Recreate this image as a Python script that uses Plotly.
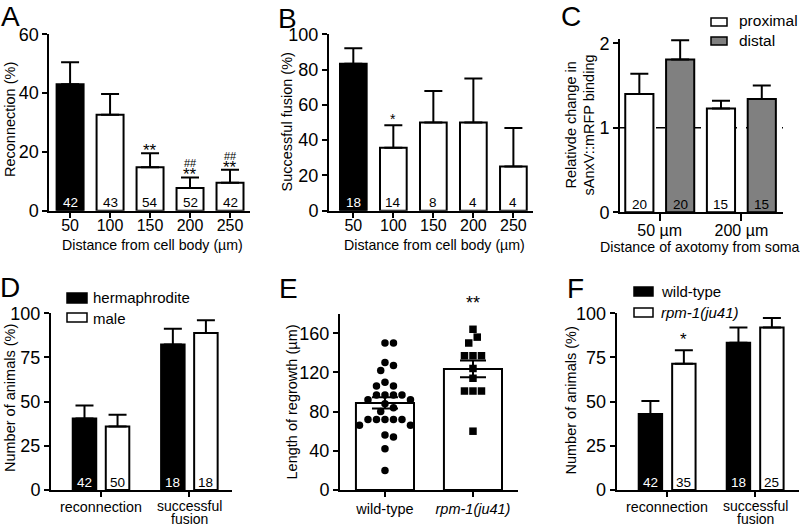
import numpy as np
import plotly.graph_objects as go

W, H = 800, 527
FONT = "Liberation Sans, Arial, Helvetica, sans-serif"

# ---------------- data ----------------
# Panel A
dist_labels = ["50", "100", "150", "200", "250"]
a_values = [43.0, 32.6, 14.8, 7.7, 9.5]
a_sem = [7.5, 7.1, 4.7, 3.6, 4.4]
a_n = [42, 43, 54, 52, 42]
a_stars = ["", "", "**", "**", "**"]
a_hash = ["", "", "", "##", "##"]

# Panel B
b_values = [83.3, 35.7, 50.0, 50.0, 25.0]
b_sem = [8.8, 12.7, 17.9, 25.0, 21.9]
b_n = [18, 14, 8, 4, 4]
b_stars = ["", "*", "", "", ""]

# Panel C
c_groups = ["50 µm", "200 µm"]
c_proximal = [1.40, 1.23]
c_proximal_sem = [0.24, 0.09]
c_distal = [1.81, 1.34]
c_distal_sem = [0.225, 0.16]
c_n_proximal = [20, 15]
c_n_distal = [20, 15]

# Panel D
d_groups = ["reconnection", "successful", "fusion"]
d_herm = [40.5, 82.3]
d_herm_sem = [7.3, 9.0]
d_male = [36.0, 88.8]
d_male_sem = [6.6, 7.2]
d_n_herm = [42, 18]
d_n_male = [50, 18]

# Panel E
e_labels = ["wild-type", "<i>rpm-1(ju41)</i>"]
e_wild_type = [150, 150, 130, 127, 122, 110, 106, 106, 97, 97, 97, 97, 92, 92,
               88, 84, 80, 72, 72, 72, 72, 72, 66, 66, 56, 54, 42, 20]
e_rpm1 = [164, 156, 150, 137, 137, 137, 124, 114, 101, 101, 101, 60]

# Panel F
f_wild_type = [43.0, 83.3]
f_wild_type_sem = [7.4, 8.6]
f_rpm1 = [71.4, 92.0]
f_rpm1_sem = [7.7, 5.3]
f_n_wild_type = [42, 18]
f_n_rpm1 = [35, 25]
f_stars_rpm1 = ["*", ""]


# ---------------- helpers ----------------
def fx(px):
    return px / W


def fy(py):
    return 1 - py / H


def ann(text, x, y, xref="paper", yref="paper", size=14.5, color="black", **kw):
    return dict(text=text, x=x, y=y, xref=xref, yref=yref, showarrow=False,
                font=dict(size=size, family=FONT, color=color), **kw)


def err_up(sem):
    return dict(type="data", array=sem, arrayminus=[0] * len(sem), symmetric=False,
                color="black", thickness=2, width=9)


def axis(domain, rng, **kw):
    d = dict(domain=domain, range=rng, showgrid=False, zeroline=False, showline=True,
             automargin=False,
             linecolor="black", linewidth=2, ticks="outside", ticklen=5, tickwidth=2,
             tickcolor="black", tickfont=dict(size=16, family=FONT, color="black"))
    d.update(kw)
    return d


def swarm(vals, px_per_x, px_per_y, d):
    vals = np.asarray(vals, dtype=float)
    order = np.argsort(-vals, kind="stable")
    placed = []
    offs = np.zeros(len(vals))
    for i in order:
        y = vals[i] * px_per_y
        for k in range(0, 40):
            cand = 0.0 if k == 0 else ((k + 1) // 2) * (d / 2) * (1 if k % 2 else -1)
            if all((cand - px) ** 2 + (y - py) ** 2 >= d * d * 0.98 for px, py in placed):
                break
        placed.append((cand, y))
        offs[i] = cand / px_per_x
    return offs


fig = go.Figure()
annotations = []
shapes = []

# ---------------- Panel A ----------------
xa = list(range(len(a_values)))
fig.add_trace(go.Bar(x=xa, y=a_values, width=0.675, xaxis="x", yaxis="y",
                     marker=dict(color=["black"] + ["white"] * 4, line=dict(color="black", width=2)),
                     error_y=err_up(a_sem), showlegend=False))
for i, n in enumerate(a_n):
    annotations.append(ann(str(n), i, 0, "x", "y", size=13.5,
                           color="white" if i == 0 else "black", yanchor="middle", yshift=8))
    top = a_values[i] + a_sem[i]
    if a_stars[i]:
        annotations.append(ann(a_stars[i], i, top, "x", "y", size=17, yanchor="bottom", yshift=-9))
    if a_hash[i]:
        annotations.append(ann(a_hash[i], i, top, "x", "y", size=11, yanchor="bottom", yshift=6))

# ---------------- Panel B ----------------
xb = list(range(len(b_values)))
fig.add_trace(go.Bar(x=xb, y=b_values, width=0.667, xaxis="x2", yaxis="y2",
                     marker=dict(color=["black"] + ["white"] * 4, line=dict(color="black", width=2)),
                     error_y=err_up(b_sem), showlegend=False))
for i, n in enumerate(b_n):
    annotations.append(ann(str(n), i, 0, "x2", "y2", size=13.5,
                           color="white" if i == 0 else "black", yanchor="middle", yshift=8))
    if b_stars[i]:
        annotations.append(ann(b_stars[i], i, b_values[i] + b_sem[i], "x2", "y2", size=14,
                               yanchor="bottom", yshift=-4))

# ---------------- Panel C ----------------
xc_p = [0, 2]
xc_d = [1, 3]
fig.add_trace(go.Bar(x=xc_p, y=c_proximal, width=0.69, xaxis="x3", yaxis="y3",
                     marker=dict(color="white", line=dict(color="black", width=2)),
                     error_y=err_up(c_proximal_sem), showlegend=False))
fig.add_trace(go.Bar(x=xc_d, y=c_distal, width=0.69, xaxis="x3", yaxis="y3",
                     marker=dict(color="#808080", line=dict(color="black", width=2)),
                     error_y=err_up(c_distal_sem), showlegend=False))
for x, n in zip(xc_p, c_n_proximal):
    annotations.append(ann(str(n), x, 0, "x3", "y3", size=13.5, yanchor="middle", yshift=8))
for x, n in zip(xc_d, c_n_distal):
    annotations.append(ann(str(n), x, 0, "x3", "y3", size=13.5, yanchor="middle", yshift=8))
shapes.append(dict(type="line", xref="x3 domain", yref="y3", x0=0, x1=1, y0=1, y1=1,
                   line=dict(color="black", width=1.5, dash="dash"), layer="below"))

# ---------------- Panel D ----------------
off_g = 0.187
bw_g = 0.266
xd = np.arange(2)
fig.add_trace(go.Bar(x=xd - off_g, y=d_herm, width=bw_g, xaxis="x4", yaxis="y4",
                     marker=dict(color="black", line=dict(color="black", width=2)),
                     error_y=err_up(d_herm_sem), showlegend=False))
fig.add_trace(go.Bar(x=xd + off_g, y=d_male, width=bw_g, xaxis="x4", yaxis="y4",
                     marker=dict(color="white", line=dict(color="black", width=2)),
                     error_y=err_up(d_male_sem), showlegend=False))
for i in range(2):
    annotations.append(ann(str(d_n_herm[i]), xd[i] - off_g, 0, "x4", "y4", size=13.5,
                           color="white", yanchor="middle", yshift=8))
    annotations.append(ann(str(d_n_male[i]), xd[i] + off_g, 0, "x4", "y4", size=13.5,
                           yanchor="middle", yshift=8))

# ---------------- Panel E ----------------
e_sets = [e_wild_type, e_rpm1]
e_means = [float(np.mean(v)) for v in e_sets]
e_sems = [float(np.std(v, ddof=1) / np.sqrt(len(v))) for v in e_sets]
fig.add_trace(go.Bar(x=[0, 1], y=e_means, width=0.66, xaxis="x5", yaxis="y5",
                     marker=dict(color="white", line=dict(color="black", width=2)),
                     showlegend=False))
for gi, (vals, sym) in enumerate(zip(e_sets, ["circle", "square"])):
    offs = swarm(vals, 88.0, 0.979, 8.5)
    fig.add_trace(go.Scatter(x=gi + offs, y=vals, mode="markers", xaxis="x5", yaxis="y5",
                             marker=dict(symbol=sym, size=7.5, color="black", line=dict(width=0)),
                             showlegend=False, cliponaxis=False))
fig.add_trace(go.Scatter(x=[0, 1], y=e_means, mode="markers", xaxis="x5", yaxis="y5",
                         marker=dict(size=1, color="rgba(0,0,0,0)"),
                         error_y=dict(type="data", array=e_sems, color="black", thickness=2, width=13),
                         showlegend=False))
annotations.append(ann("**", 1, 1, "x5", "y5 domain", size=18, yanchor="bottom", yshift=-1))

# ---------------- Panel F ----------------
xf = np.arange(2)
fig.add_trace(go.Bar(x=xf - 0.19, y=f_wild_type, width=bw_g, xaxis="x6", yaxis="y6",
                     marker=dict(color="black", line=dict(color="black", width=2)),
                     error_y=err_up(f_wild_type_sem), showlegend=False))
fig.add_trace(go.Bar(x=xf + 0.19, y=f_rpm1, width=bw_g, xaxis="x6", yaxis="y6",
                     marker=dict(color="white", line=dict(color="black", width=2)),
                     error_y=err_up(f_rpm1_sem), showlegend=False))
for i in range(2):
    annotations.append(ann(str(f_n_wild_type[i]), xf[i] - 0.19, 0, "x6", "y6", size=13.5,
                           color="white", yanchor="middle", yshift=8))
    annotations.append(ann(str(f_n_rpm1[i]), xf[i] + 0.19, 0, "x6", "y6", size=13.5,
                           yanchor="middle", yshift=8))
    if f_stars_rpm1[i]:
        annotations.append(ann(f_stars_rpm1[i], xf[i] + 0.19, f_rpm1[i] + f_rpm1_sem[i], "x6", "y6",
                               size=17, yanchor="bottom", yshift=-1))

# ---------------- text: titles, labels ----------------
ytick = dict(size=18, family=FONT, color="black")
# panel letters
for letter, px, py in [("A", 10, 17), ("B", 287, 19), ("C", 571, 17),
                       ("D", 10, 287), ("E", 288, 288), ("F", 575, 288)]:
    annotations.append(ann(letter, fx(px), fy(py), size=28, xanchor="center", yanchor="middle"))

# y titles
for text, px, py in [("Reconnection (%)", 10, 120), ("Successful fusion (%)", 286.5, 122),
                     ("Number of animals (%)", 10, 398), ("Length of regrowth (µm)", 291.5, 402),
                     ("Number of animals (%)", 570.5, 401),
                     ("Relativde change in", 570.5, 125), ("sAnxV::mRFP binding", 588.5, 125)]:
    annotations.append(ann(text, fx(px), fy(py), size=14.5, textangle=-90,
                           xanchor="center", yanchor="middle"))

# x titles
for text, px, py in [("Distance from cell body (µm)", 152, 245),
                     ("Distance from cell body (µm)", 435, 245),
                     ("Distance of axotomy from soma", 700, 246.5)]:
    annotations.append(ann(text, fx(px), fy(py), size=14.2, xanchor="center", yanchor="middle"))

# category labels for D and F
for xref in ["x4", "x6"]:
    annotations.append(ann(d_groups[0], 0, fy(506.5), xref, "paper", size=14.3,
                           xanchor="center", yanchor="middle"))
    annotations.append(ann(d_groups[1], 1, fy(506), xref, "paper", size=14,
                           xanchor="center", yanchor="middle"))
    annotations.append(ann(d_groups[2], 1, fy(519), xref, "paper", size=14,
                           xanchor="center", yanchor="middle"))

# legends (drawn)
legend_items = [
    ("proximal", "white", 711, 727, 18, 26, 736.5, 21),
    ("distal", "#808080", 711, 727, 37, 45, 736.5, 40),
    ("hermaphrodite", "black", 67, 87, 293, 303, 91, 297.5),
    ("male", "white", 67, 87, 313, 322, 91, 318),
    ("wild-type", "black", 634, 653, 287, 296, 659, 291),
    ("<i>rpm-1(ju41)</i>", "white", 634, 653, 308, 317, 659, 312.5),
]
for text, col, x0, x1, y0, y1, tx, ty in legend_items:
    shapes.append(dict(type="rect", xref="paper", yref="paper", x0=fx(x0), x1=fx(x1),
                       y0=fy(y1), y1=fy(y0), fillcolor=col, line=dict(color="black", width=1.5)))
    annotations.append(ann(text, fx(tx), fy(ty), size=15.5 if "prox" in text or "distal" in text else 15,
                           xanchor="left", yanchor="middle"))

# ---------------- layout ----------------
no_lbl = dict(showticklabels=False)
fig.update_layout(
    template="none",
    width=W, height=H, autosize=False,
    margin=dict(l=0, r=0, t=0, b=0, pad=0, autoexpand=False),
    paper_bgcolor="white", plot_bgcolor="white",
    barmode="overlay", showlegend=False,
    font=dict(family=FONT, color="black"),
    xaxis=axis([fx(49.3), fx(250)], [-0.52, 4.5], tickvals=xa, ticktext=dist_labels, anchor="y",
               ticklabelstandoff=-6),
    yaxis=axis([fy(210.7), fy(34.3)], [0, 60], tickvals=[0, 20, 40, 60], tickfont=ytick, anchor="x"),
    xaxis2=axis([fx(329), fx(533)], [-0.6075, 4.49], tickvals=xb, ticktext=dist_labels, anchor="y2",
                ticklabelstandoff=-6),
    yaxis2=axis([fy(210.7), fy(34.3)], [0, 100], tickvals=[0, 20, 40, 60, 80, 100], tickfont=ytick, anchor="x2"),
    xaxis3=axis([fx(620), fx(783)], [-0.474, 3.52], tickvals=[0.5, 2.5], ticktext=c_groups, anchor="y3",
                ticklen=7, ticklabelstandoff=-5),
    yaxis3=axis([fy(212.3), fy(39.1)], [0, 2.05], tickvals=[0, 1, 2], tickfont=ytick, anchor="x3"),
    xaxis4=axis([fx(51), fx(231.7)], [-0.566, 1.479], tickvals=[0, 1], anchor="y4", **no_lbl),
    yaxis4=axis([fy(490), fy(313.3)], [0, 100], tickvals=[0, 25, 50, 75, 100], tickfont=ytick, anchor="x4"),
    xaxis5=axis([fx(340), fx(518.3)], [-0.511, 1.515], tickvals=[0, 1], ticktext=e_labels, anchor="y5",
                tickfont=dict(size=14.5, family=FONT, color="black")),
    yaxis5=axis([fy(490), fy(313.6)], [0, 180], tickvals=[0, 40, 80, 120, 160], tickfont=ytick, anchor="x5"),
    xaxis6=axis([fx(616.7), fx(799)], [-0.573, 1.498], tickvals=[0, 1], anchor="y6", **no_lbl),
    yaxis6=axis([fy(490), fy(313.3)], [0, 100], tickvals=[0, 25, 50, 75, 100], tickfont=ytick, anchor="x6"),
    annotations=annotations,
    shapes=shapes,
)

fig.write_html("out.html", config=dict(displayModeBar=False),
               post_script="document.body.style.margin='0';document.body.style.overflow='hidden';")
